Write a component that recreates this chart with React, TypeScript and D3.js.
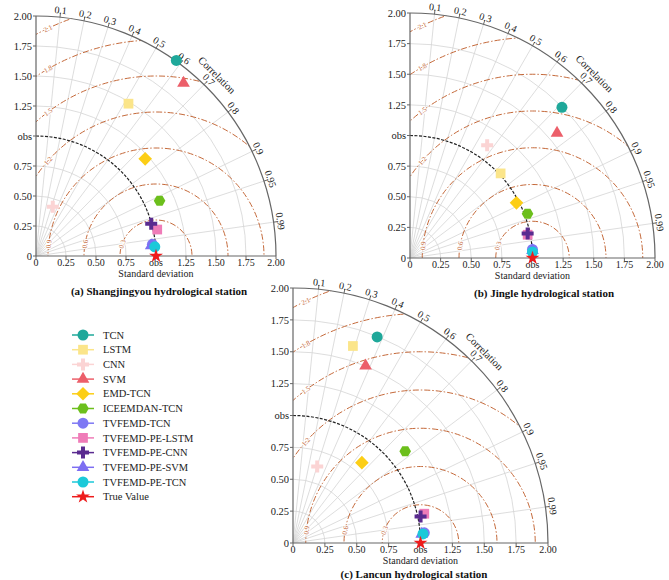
import React, { useEffect, useRef } from 'react';
import * as d3 from 'd3';

const FONT = '"Liberation Serif", "Times New Roman", serif';

// models, in legend order
const models = [
  'TCN', 'LSTM', 'CNN', 'SVM', 'EMD-TCN', 'ICEEMDAN-TCN', 'TVFEMD-TCN',
  'TVFEMD-PE-LSTM', 'TVFEMD-PE-CNN', 'TVFEMD-PE-SVM', 'TVFEMD-PE-TCN',
];
const colors = [
  '#1fa89a', '#fbe58a', '#fbd4d4', '#ec5f6a', '#fcce16', '#6cbf1c', '#7e78f4',
  '#ef7cb8', '#5a2b90', '#7d6ef2', '#1bc9d9',
];
const shapes = [
  'circle', 'square', 'plus', 'triangle', 'diamond', 'hexagon', 'circle',
  'square', 'plus', 'triangle', 'circle',
];

// normalised standard deviation and correlation of each model
const stdA = [2.006, 1.485, 0.433, 1.894, 1.218, 1.128, 0.975, 1.034, 0.997, 0.964, 0.993];
const corrA = [0.583, 0.519, 0.323, 0.649, 0.747, 0.913, 0.995, 0.977, 0.963, 0.996, 0.997];

const stdB = [1.747, 1.012, 1.115, 1.575, 0.979, 1.025, 1.002, 0.979, 0.981, 1.002, 1.001];
const corrB = [0.710, 0.731, 0.565, 0.762, 0.888, 0.936, 0.9976, 0.981, 0.979, 0.998, 0.9988];

const stdC = [1.746, 1.615, 0.629, 1.502, 0.830, 1.137, 1.033, 1.055, 1.022, 1.012, 1.022];
const corrC = [0.378, 0.291, 0.302, 0.379, 0.651, 0.774, 0.997, 0.976, 0.979, 0.9976, 0.9976];

const corrTicks = [0.1, 0.2, 0.3, 0.4, 0.5, 0.6, 0.7, 0.8, 0.9, 0.95, 0.99];
const stdTicks = [0, 0.25, 0.5, 0.75, 1, 1.25, 1.5, 1.75, 2];
const rmsLevels = [0.3, 0.6, 0.9, 1.2, 1.5, 1.8, 2.1];

const markerPath = (shape: string, size = 1): string => {
  switch (shape) {
    case 'circle':
      return d3.symbol(d3.symbolCircle, 95 * size)() as string;
    case 'square':
      return d3.symbol(d3.symbolSquare, 95 * size)() as string;
    case 'plus':
      return d3.symbol(d3.symbolCross, 80 * size)() as string;
    case 'triangle':
      return d3.symbol(d3.symbolTriangle, 70 * size)() as string;
    case 'star':
      return d3.symbol(d3.symbolStar, 60 * size)() as string;
    case 'diamond': {
      const s = 6.8 * Math.sqrt(size);
      return `M0,${-s}L${s},0L0,${s}L${-s},0Z`;
    }
    case 'hexagon': {
      const s = 5.8 * Math.sqrt(size);
      const pts = d3.range(6).map(k => {
        const a = (Math.PI / 3) * k;
        return `${s * Math.cos(a)},${s * Math.sin(a)}`;
      });
      return `M${pts.join('L')}Z`;
    }
    default:
      return '';
  }
};

const fmt = (v: number) => (v === 0 ? '0' : v.toFixed(2));

interface TaylorProps {
  id: string;
  ox: number;
  oy: number;
  R: number;
  std: number[];
  corr: number[];
  title: string;
  titleX: number;
  titleY: number;
}

const TaylorDiagram: React.FC<TaylorProps> = ({ id, ox, oy, R, std, corr, title, titleX, titleY }) => {
  const gRef = useRef<SVGGElement>(null);

  useEffect(() => {
    if (!gRef.current) return;
    const g = d3.select(gRef.current);
    g.selectAll('*').remove();

    const r = d3.scaleLinear().domain([0, 2]).range([0, R]);
    const X = d3.scaleLinear().domain([0, 2]).range([ox, ox + R]);
    const Y = d3.scaleLinear().domain([0, 2]).range([oy, oy - R]);
    const px = (s: number, c: number) => X(s * c);
    const py = (s: number, c: number) => Y(s * Math.sqrt(Math.max(0, 1 - c * c)));
    const quarter = (s: number) => `M${ox},${Y(s)}A${r(s)},${r(s)} 0 0 1 ${X(s)},${oy}`;

    // clip for the RMSD circles
    const clipId = `clip-${id}`;
    g.append('clipPath')
      .attr('id', clipId)
      .append('path')
      .attr('d', `M${ox},${oy}L${ox},${oy - R}A${R},${R} 0 0 1 ${ox + R},${oy}Z`);

    // std grid arcs
    g.selectAll('.sgrid')
      .data(stdTicks.filter(s => s > 0 && s < 2 && s !== 1))
      .enter()
      .append('path')
      .attr('d', d => quarter(d))
      .attr('fill', 'none')
      .attr('stroke', '#d4d4d4')
      .attr('stroke-width', 0.8);

    // correlation rays
    g.selectAll('.cgrid')
      .data(corrTicks)
      .enter()
      .append('line')
      .attr('x1', ox)
      .attr('y1', oy)
      .attr('x2', c => px(2, c))
      .attr('y2', c => py(2, c))
      .attr('stroke', '#d4d4d4')
      .attr('stroke-width', 0.8);

    // RMSD circles
    g.append('g')
      .attr('clip-path', `url(#${clipId})`)
      .selectAll('circle')
      .data(rmsLevels)
      .enter()
      .append('circle')
      .attr('cx', X(1))
      .attr('cy', oy)
      .attr('r', d => r(d))
      .attr('fill', 'none')
      .attr('stroke', '#c4693a')
      .attr('stroke-width', 1)
      .attr('stroke-dasharray', '6,2,1.5,2');

    // RMSD labels
    rmsLevels.forEach(v => {
      let sx: number, sy: number;
      if (v < 1) {
        sy = 0.1;
        sx = 1 - Math.sqrt(v * v - sy * sy);
      } else {
        sx = 0.1;
        sy = Math.sqrt(v * v - 0.81);
      }
      if (Math.hypot(sx, sy) > 2) return;
      const a = (Math.atan2(sy, sx - 1) * 180) / Math.PI;
      g.append('text')
        .attr('transform', `translate(${X(sx)},${Y(sy)}) rotate(${90 - a})`)
        .attr('text-anchor', 'middle')
        .attr('dy', '0.35em')
        .attr('fill', '#c4693a')
        .attr('stroke', '#ffffff')
        .attr('stroke-width', 2)
        .attr('paint-order', 'stroke')
        .style('font-family', FONT)
        .style('font-size', '7px')
        .text(v.toFixed(1));
    });

    // observation arc
    g.append('path')
      .attr('d', quarter(1))
      .attr('fill', 'none')
      .attr('stroke', '#222')
      .attr('stroke-width', 1.2)
      .attr('stroke-dasharray', '3,1.5');

    // outer arc and axes
    g.append('path')
      .attr('d', `M${ox},${oy - R}A${R},${R} 0 0 1 ${ox + R},${oy}`)
      .attr('fill', 'none')
      .attr('stroke', '#666')
      .attr('stroke-width', 1.2);
    g.append('line').attr('x1', ox).attr('y1', oy).attr('x2', ox).attr('y2', oy - R)
      .attr('stroke', '#666').attr('stroke-width', 1.2);
    g.append('line').attr('x1', ox).attr('y1', oy).attr('x2', ox + R).attr('y2', oy)
      .attr('stroke', '#666').attr('stroke-width', 1.2);

    // axis ticks and labels
    stdTicks.forEach(s => {
      const label = s === 1 ? 'obs' : fmt(s);
      g.append('line').attr('x1', ox - 3).attr('x2', ox).attr('y1', Y(s)).attr('y2', Y(s))
        .attr('stroke', '#666');
      g.append('line').attr('x1', X(s)).attr('x2', X(s)).attr('y1', oy).attr('y2', oy + 3)
        .attr('stroke', '#666');
      g.append('text')
        .attr('x', ox - 4)
        .attr('y', Y(s))
        .attr('dy', '0.35em')
        .attr('text-anchor', 'end')
        .attr('fill', '#222')
        .style('font-family', FONT)
        .style('font-size', '10.5px')
        .text(label);
      g.append('text')
        .attr('x', X(s))
        .attr('y', oy + 10)
        .attr('text-anchor', 'middle')
        .attr('fill', '#222')
        .style('font-family', FONT)
        .style('font-size', '10px')
        .text(label);
    });

    g.append('text')
      .attr('x', X(1))
      .attr('y', oy + 21)
      .attr('text-anchor', 'middle')
      .attr('fill', '#222')
      .style('font-family', FONT)
      .style('font-size', '10px')
      .text('Standard deviation');

    // correlation ticks and labels
    corrTicks.forEach(c => {
      const th = Math.acos(c);
      const deg = (th * 180) / Math.PI;
      g.append('line')
        .attr('x1', px(2, c)).attr('y1', py(2, c))
        .attr('x2', ox + (R + 4) * Math.cos(th)).attr('y2', oy - (R + 4) * Math.sin(th))
        .attr('stroke', '#666');
      g.append('text')
        .attr('transform', `translate(${ox + (R + 7) * Math.cos(th)},${oy - (R + 7) * Math.sin(th)}) rotate(${90 - deg})`)
        .attr('text-anchor', 'middle')
        .attr('dy', '0.35em')
        .attr('fill', '#222')
        .style('font-family', FONT)
        .style('font-size', '10px')
        .text(String(c));
    });
    const cth = Math.PI / 4;
    g.append('text')
      .attr('transform', `translate(${ox + (R + 16) * Math.cos(cth)},${oy - (R + 16) * Math.sin(cth)}) rotate(45)`)
      .attr('text-anchor', 'middle')
      .attr('dy', '0.35em')
      .attr('fill', '#222')
      .style('font-family', FONT)
      .style('font-size', '10.5px')
      .text('Correlation');

    // model points
    g.selectAll('.pt')
      .data(models)
      .enter()
      .append('path')
      .attr('transform', (d, i) => `translate(${px(std[i], corr[i])},${py(std[i], corr[i])})`)
      .attr('d', (d, i) => markerPath(shapes[i]))
      .attr('fill', (d, i) => colors[i]);

    // true value
    g.append('path')
      .attr('transform', `translate(${X(1)},${oy})`)
      .attr('d', markerPath('star'))
      .attr('fill', '#ee1c1c');

    // title
    g.append('text')
      .attr('x', titleX)
      .attr('y', titleY)
      .attr('dy', '0.35em')
      .attr('text-anchor', 'middle')
      .attr('fill', '#111')
      .style('font-family', FONT)
      .style('font-size', '11px')
      .style('font-weight', 'bold')
      .text(title);
  }, [id, ox, oy, R, std, corr, title, titleX, titleY]);

  return <g ref={gRef} />;
};

const Legend: React.FC = () => {
  const items = models.map((m, i) => ({ name: m, color: colors[i], shape: shapes[i] }));
  items.push({ name: 'True Value', color: '#ee1c1c', shape: 'star' });
  return (
    <g>
      {items.map((it, i) => {
        const y = 335 + i * 14.7;
        return (
          <g key={it.name} transform={`translate(0,${y})`}>
            <line x1={72} x2={94} y1={0} y2={0} stroke={it.color} strokeWidth={1.5} />
            <path transform="translate(83,0)" d={markerPath(it.shape)} fill={it.color} />
            <text x={103} y={0} dy="0.35em" fill="#222" style={{ fontFamily: FONT, fontSize: '10.5px' }}>
              {it.name}
            </text>
          </g>
        );
      })}
    </g>
  );
};

export default function App() {
  return (
    <svg
      width={669}
      height={580}
      style={{ position: 'absolute', left: 0, top: 0, background: '#fff' }}
    >
      <rect width={669} height={580} fill="#fff" />
      <TaylorDiagram id="a" ox={36} oy={256} R={240} std={stdA} corr={corrA}
        title="(a) Shangjingyou hydrological station" titleX={159} titleY={291} />
      <TaylorDiagram id="b" ox={410} oy={258} R={245} std={stdB} corr={corrB}
        title="(b) Jingle hydrological station" titleX={544} titleY={293} />
      <TaylorDiagram id="c" ox={293} oy={543} R={255} std={stdC} corr={corrC}
        title="(c) Lancun hydrological station" titleX={414} titleY={574} />
      <Legend />
    </svg>
  );
}
